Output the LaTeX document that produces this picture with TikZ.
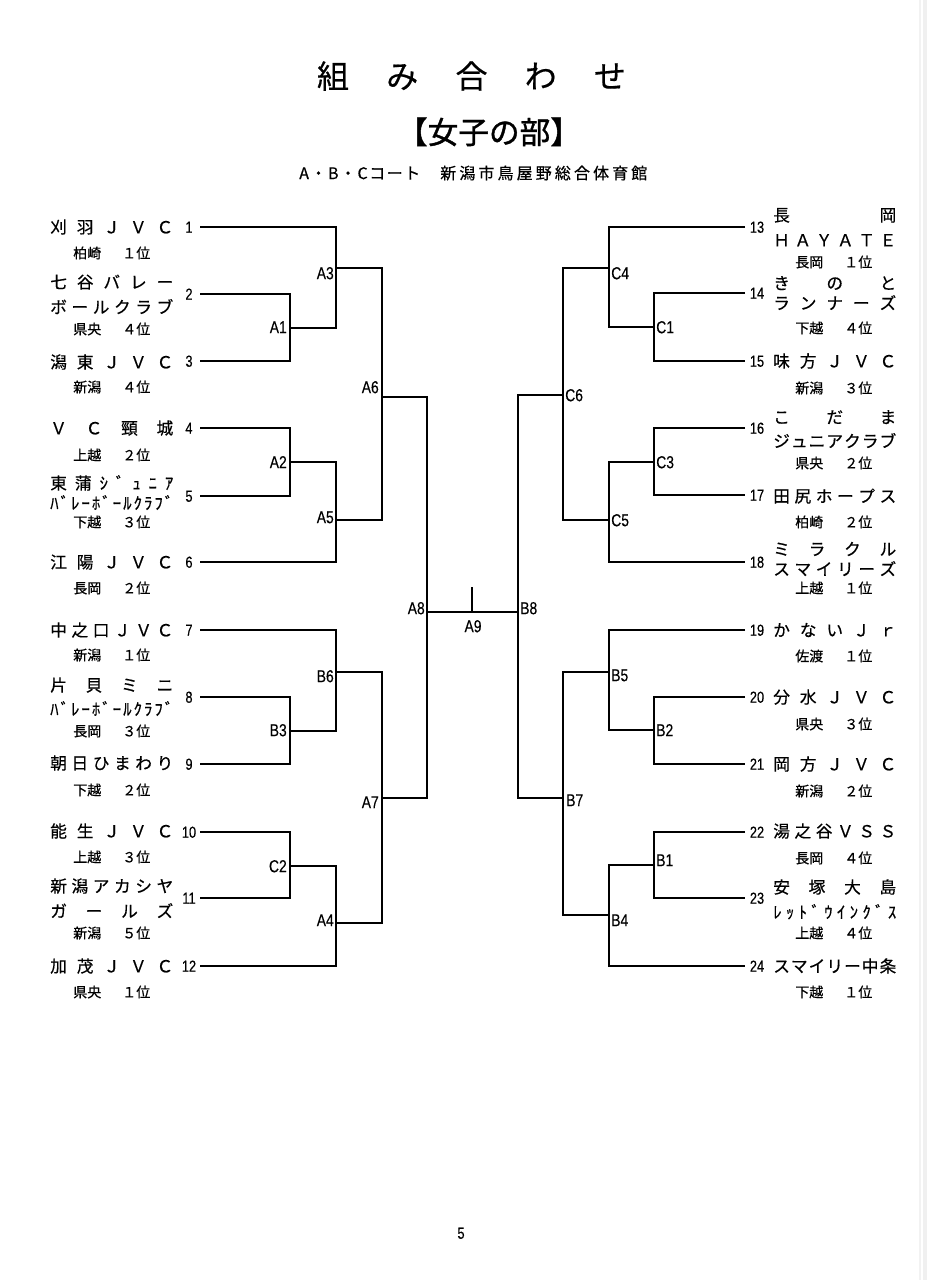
\documentclass[tikz,border=0pt]{standalone}
\usepackage{fontspec}
\usepackage{graphicx}
\setmainfont{Noto Sans CJK JP}[FakeBold=0.5]
\newfontfamily\titlefont{Noto Sans CJK JP}[FakeBold=1.2]
\newfontfamily\lat{Liberation Sans}[FakeBold=0.3]
\def\spreadfirst#1{#1\spreadnext}
\def\spreadnext#1{\ifx#1\relax\else\hfill#1\expandafter\spreadnext\fi}
\newcommand\JS[2]{\makebox[\dimexpr#1pt*3/4\relax][s]{\spreadfirst#2\relax}}
\newcommand\Sub[2]{\makebox[57.75pt][s]{#1\hfill #2}}
\newcommand\narrow[1]{\scalebox{0.8}[1]{#1}}
\tikzset{
  nm/.style={anchor=west, inner sep=0pt, font=\fontsize{12.5}{14}\selectfont, text height=11pt, text depth=1.5pt},
  sb/.style={anchor=west, inner sep=0pt, font=\fontsize{10.5}{12}\selectfont, text height=9.24pt, text depth=1.26pt},
  num/.style={anchor=center, inner sep=0pt, font=\lat\fontsize{12}{13}\selectfont, text height=8.6pt, text depth=0pt},
  lbL/.style={anchor=east, inner sep=0pt, font=\lat\fontsize{13}{14}\selectfont, text height=9.3pt, text depth=0pt},
  lbR/.style={anchor=west, inner sep=0pt, font=\lat\fontsize{13}{14}\selectfont, text height=9.3pt, text depth=0pt},
  br/.style={line width=1.1pt, black},
}
\begin{document}
\begin{tikzpicture}[x=0.75pt,y=-0.75pt]
\useasboundingbox (0,0) rectangle (927,1280);
\fill[white] (0,0) rectangle (927,1280);
\fill[gray!12] (923,0) rectangle (927,1280);
\draw[gray!10, line width=0.8pt] (920,0) -- (920,1280);

% titles
\node[inner sep=0pt, font=\fontsize{24}{26}\selectfont, text height=21.1pt, text depth=2.9pt] (title) at (471.5,76) {\JS{309}{組み合わせ}};
\node[inner sep=0pt, font=\titlefont\fontsize{23}{25}\selectfont, text height=20.2pt, text depth=2.8pt] (sub1) at (489,132) {【女子の部】};
\node[inner sep=0pt, anchor=west, font=\fontsize{12}{13}\selectfont, text height=10.6pt, text depth=1.4pt] (court) at (299,173) {\JS{121}{A・B・Cコート}};
\node[inner sep=0pt, anchor=west, font=\fontsize{12}{13}\selectfont, text height=10.6pt, text depth=1.4pt] (hall) at (440,173) {\JS{207}{新潟市鳥屋野総合体育館}};

% ---------- left teams ----------
\node[nm] (t1a) at (50,227) {\JS{123}{刈羽ＪＶＣ}};
\node[sb] (s1) at (73,253) {\Sub{柏崎}{１位}};
\node[nm] (t2a) at (50,282) {\JS{123}{七谷バレー}};
\node[nm] (t2b) at (50,307) {\JS{123}{ボールクラブ}};
\node[sb] (s2) at (73,329) {\Sub{県央}{４位}};
\node[nm] (t3a) at (50,362) {\JS{123}{潟東ＪＶＣ}};
\node[sb] (s3) at (73,387) {\Sub{新潟}{４位}};
\node[nm] (t4a) at (50,428) {\JS{123}{ＶＣ頸城}};
\node[sb] (s4) at (73,455) {\Sub{上越}{２位}};
\node[nm] (t5a) at (50,483) {\JS{123}{東蒲ｼﾞｭﾆｱ}};
\node[nm] (t5b) at (50,503) {\JS{123}{ﾊﾞﾚｰﾎﾞｰﾙｸﾗﾌﾞ}};
\node[sb] (s5) at (73,522) {\Sub{下越}{３位}};
\node[nm] (t6a) at (50,562) {\JS{123}{江陽ＪＶＣ}};
\node[sb] (s6) at (73,588) {\Sub{長岡}{２位}};
\node[nm] (t7a) at (50,630) {\JS{123}{中之口ＪＶＣ}};
\node[sb] (s7) at (73,655) {\Sub{新潟}{１位}};
\node[nm] (t8a) at (50,685) {\JS{123}{片貝ミニ}};
\node[nm] (t8b) at (50,709) {\JS{123}{ﾊﾞﾚｰﾎﾞｰﾙｸﾗﾌﾞ}};
\node[sb] (s8) at (73,731) {\Sub{長岡}{３位}};
\node[nm] (t9a) at (50,763) {\JS{123}{朝日ひまわり}};
\node[sb] (s9) at (73,790) {\Sub{下越}{２位}};
\node[nm] (t10a) at (50,831) {\JS{123}{能生ＪＶＣ}};
\node[sb] (s10) at (73,857) {\Sub{上越}{３位}};
\node[nm] (t11a) at (50,886) {\JS{123}{新潟アカシヤ}};
\node[nm] (t11b) at (50,911) {\JS{123}{ガールズ}};
\node[sb] (s11) at (73,933) {\Sub{新潟}{５位}};
\node[nm] (t12a) at (50,966) {\JS{123}{加茂ＪＶＣ}};
\node[sb] (s12) at (73,992) {\Sub{県央}{１位}};

% ---------- right teams ----------
\node[nm] (t13a) at (773,215) {\JS{123}{長岡}};
\node[nm] (t13b) at (773,240) {\JS{123}{ＨＡＹＡＴＥ}};
\node[sb] (s13) at (795,262) {\Sub{長岡}{１位}};
\node[nm] (t14a) at (773,283) {\JS{123}{きのと}};
\node[nm] (t14b) at (773,303) {\JS{123}{ランナーズ}};
\node[sb] (s14) at (795,328) {\Sub{下越}{４位}};
\node[nm] (t15a) at (773,361) {\JS{123}{味方ＪＶＣ}};
\node[sb] (s15) at (795,388) {\Sub{新潟}{３位}};
\node[nm] (t16a) at (773,417) {\JS{123}{こだま}};
\node[nm] (t16b) at (773,441) {\JS{123}{ジュニアクラブ}};
\node[sb] (s16) at (795,463) {\Sub{県央}{２位}};
\node[nm] (t17a) at (773,496) {\JS{123}{田尻ホープス}};
\node[sb] (s17) at (795,522) {\Sub{柏崎}{２位}};
\node[nm] (t18a) at (773,549) {\JS{123}{ミラクル}};
\node[nm] (t18b) at (773,569) {\JS{123}{スマイリーズ}};
\node[sb] (s18) at (795,588) {\Sub{上越}{１位}};
\node[nm] (t19a) at (773,630) {\JS{123}{かないＪｒ}};
\node[sb] (s19) at (795,656) {\Sub{佐渡}{１位}};
\node[nm] (t20a) at (773,697) {\JS{123}{分水ＪＶＣ}};
\node[sb] (s20) at (795,724) {\Sub{県央}{３位}};
\node[nm] (t21a) at (773,764) {\JS{123}{岡方ＪＶＣ}};
\node[sb] (s21) at (795,791) {\Sub{新潟}{２位}};
\node[nm] (t22a) at (773,831) {\JS{123}{湯之谷ＶＳＳ}};
\node[sb] (s22) at (795,858) {\Sub{長岡}{４位}};
\node[nm] (t23a) at (773,887) {\JS{123}{安塚大島}};
\node[nm] (t23b) at (773,912) {\JS{123}{ﾚｯﾄﾞｳｲﾝｸﾞｽ}};
\node[sb] (s23) at (795,933) {\Sub{上越}{４位}};
\node[nm] (t24a) at (773,966) {\JS{123}{スマイリー中条}};
\node[sb] (s24) at (795,992) {\Sub{下越}{１位}};

% ---------- numbers ----------
\foreach \i/\y in {1/227,2/294,3/361,4/428,5/496,6/562,7/630,8/697,9/764,10/832,11/898,12/966}{
  \node[num] (n\i) at (189,\y) {\narrow{\i}};
  \coordinate (e\i) at (200,\y);
}
\foreach \i/\y in {13/227,14/293,15/361,16/428,17/495,18/562,19/630,20/697,21/764,22/832,23/898,24/966}{
  \node[num] (n\i) at (757,\y) {\narrow{\i}};
  \coordinate (e\i) at (745,\y);
}

% ---------- junctions ----------
\coordinate (mA1) at (290,328);
\coordinate (mA2) at (290,462);
\coordinate (mB3) at (290,731);
\coordinate (mC2) at (290,866);
\coordinate (mA3) at (336,268);
\coordinate (mA5) at (336,520);
\coordinate (mB6) at (336,672);
\coordinate (mA4) at (336,923);
\coordinate (mA6) at (382,397);
\coordinate (mA7) at (382,798);
\coordinate (mA8) at (427,612);
\coordinate (mC1) at (654,327);
\coordinate (mC3) at (654,462);
\coordinate (mB2) at (654,730);
\coordinate (mB1) at (654,865);
\coordinate (mC4) at (609,268);
\coordinate (mC5) at (609,520);
\coordinate (mB5) at (609,672);
\coordinate (mB4) at (609,915);
\coordinate (mC6) at (563,395);
\coordinate (mB7) at (563,798);
\coordinate (mB8) at (518,612);
\coordinate (mA9) at (472,612);
\coordinate (a9top) at (472,587);

% ---------- bracket lines ----------
\draw[br] (e2) -| (mA1) |- (e3);
\draw[br] (mA1) -| (mA3) |- (e1);
\draw[br] (e4) -| (mA2) |- (e5);
\draw[br] (mA2) -| (mA5) |- (e6);
\draw[br] (mA3) -| (mA6) |- (mA5);
\draw[br] (mA6) -| (mA8) |- (mA7);
\draw[br] (e8) -| (mB3) |- (e9);
\draw[br] (e7) -| (mB6) |- (mB3);
\draw[br] (e10) -| (mC2) |- (e11);
\draw[br] (mC2) -| (mA4) |- (e12);
\draw[br] (mB6) -| (mA7) |- (mA4);
\draw[br] (mA8) -- (mB8);
\draw[br] (mA9) -- (a9top);
\draw[br] (e14) -| (mC1) |- (e15);
\draw[br] (e13) -| (mC4) |- (mC1);
\draw[br] (e16) -| (mC3) |- (e17);
\draw[br] (mC3) -| (mC5) |- (e18);
\draw[br] (mC4) -| (mC6) |- (mC5);
\draw[br] (mC6) -| (mB8) |- (mB7);
\draw[br] (e20) -| (mB2) |- (e21);
\draw[br] (e19) -| (mB5) |- (mB2);
\draw[br] (e22) -| (mB1) |- (e23);
\draw[br] (mB1) -| (mB4) |- (e24);
\draw[br] (mB5) -| (mB7) |- (mB4);

% ---------- match labels ----------
\node[lbL] (lA3) at (334,273) {\narrow{A3}};
\node[lbL] (lA1) at (287,327) {\narrow{A1}};
\node[lbL] (lA6) at (379,387) {\narrow{A6}};
\node[lbL] (lA2) at (287,462) {\narrow{A2}};
\node[lbL] (lA5) at (334,517) {\narrow{A5}};
\node[lbL] (lA8) at (425,608) {\narrow{A8}};
\node[lbL] (lB6) at (334,676) {\narrow{B6}};
\node[lbL] (lB3) at (287,730) {\narrow{B3}};
\node[lbL] (lA7) at (379,802) {\narrow{A7}};
\node[lbL] (lC2) at (287,866) {\narrow{C2}};
\node[lbL] (lA4) at (334,920) {\narrow{A4}};
\node[lbR, anchor=center] (lA9) at (473,626) {\narrow{A9}};
\node[lbR] (lC4) at (611,273) {\narrow{C4}};
\node[lbR] (lC1) at (656,327) {\narrow{C1}};
\node[lbR] (lC6) at (565,395) {\narrow{C6}};
\node[lbR] (lC3) at (656,462) {\narrow{C3}};
\node[lbR] (lC5) at (611,520) {\narrow{C5}};
\node[lbR] (lB8) at (520,608) {\narrow{B8}};
\node[lbR] (lB5) at (611,675) {\narrow{B5}};
\node[lbR] (lB2) at (656,730) {\narrow{B2}};
\node[lbR] (lB7) at (566,800) {\narrow{B7}};
\node[lbR] (lB1) at (656,860) {\narrow{B1}};
\node[lbR] (lB4) at (611,920) {\narrow{B4}};

% page number
\node[num] (page) at (461,1233) {\narrow{5}};
\end{tikzpicture}
\end{document}
